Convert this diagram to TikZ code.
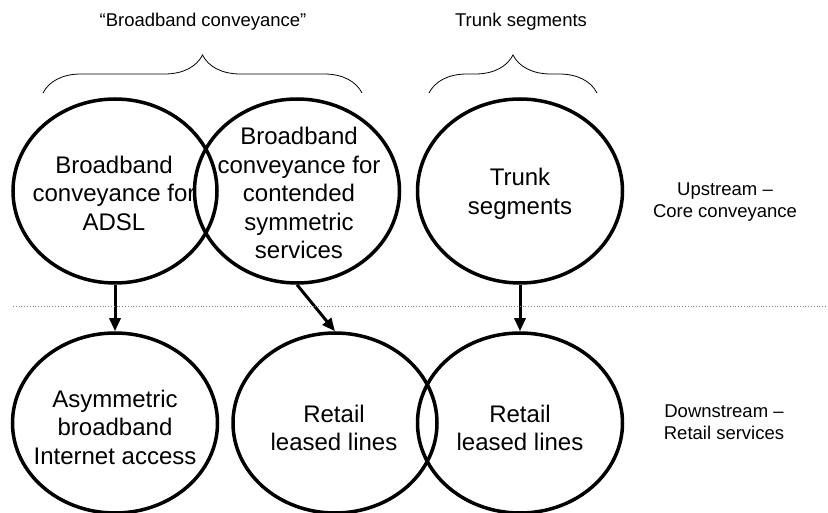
\documentclass[tikz,border=0pt]{standalone}
\usepackage{fontspec}
\setmainfont{Liberation Sans}
\usetikzlibrary{shapes.geometric,arrows.meta,decorations.pathreplacing}
\begin{document}
\begin{tikzpicture}[x=1pt,y=-1pt,
  oval/.style={draw, ellipse, line width=3.5pt, inner sep=0pt},
  lbl/.style={align=center, font=\fontsize{18.5}{21.5}\selectfont},
  ctext/.style={align=center, font=\fontsize{24}{28.5}\selectfont},
  flow/.style={line width=3pt, -{Triangle[length=13pt,width=11pt]}},
  brc/.style={decorate, decoration={brace, amplitude=38pt}, line width=0.8pt},
  sep/.style={draw=gray, dotted, line width=0.8pt}]
\useasboundingbox (0,0) rectangle (828,513);
% top ellipses
\node[oval, minimum width=204pt, minimum height=184pt] (E1) at (115,191) {};
\node[oval, minimum width=205pt, minimum height=184pt] (E2) at (297,191) {};
\node[oval, minimum width=205pt, minimum height=184pt] (E3) at (520,191) {};
\node[ctext] (T1) at (114,193) {Broadband\\conveyance for\\ADSL};
\node[ctext] (T2) at (299,193) {Broadband\\conveyance for\\contended\\symmetric\\services};
\node[ctext] (T3) at (520,194) {Trunk\\segments};
% bottom ellipses
\node[oval, minimum width=205pt, minimum height=180pt] (B1) at (115,423) {};
\node[oval, minimum width=204pt, minimum height=180pt] (B2) at (335,423) {};
\node[oval, minimum width=205pt, minimum height=180pt] (B3) at (520,423) {};
\node[ctext] (U1) at (115,427) {Asymmetric\\broadband\\Internet access};
\node[ctext] (U2) at (334,428) {Retail\\leased lines};
\node[ctext] (U3) at (520,428) {Retail\\leased lines};
% arrows
\draw[flow] (E1.south) -- (B1.north);
\draw[flow] (E2.south) -- (B2.north);
\draw[flow] (E3.south) -- (B3.north);
% separator
\coordinate (s1) at (13,306);
\coordinate (s2) at (828,306);
\draw[sep] (s1) -- (s2);
% braces
\coordinate (b1a) at (43,93);
\coordinate (b1b) at (362,93);
\coordinate (b2a) at (429,93);
\coordinate (b2b) at (597,93);
\draw[brc] (b1a) -- (b1b);
\draw[brc] (b2a) -- (b2b);
% labels
\node[lbl] (L1) at (203,22) {“Broadband conveyance”};
\node[lbl] (L2) at (521,22) {Trunk segments};
\node[lbl] (L3) at (725,202) {Upstream –\\Core conveyance};
\node[lbl] (L4) at (724,422) {Downstream –\\Retail services};
\end{tikzpicture}
\end{document}
